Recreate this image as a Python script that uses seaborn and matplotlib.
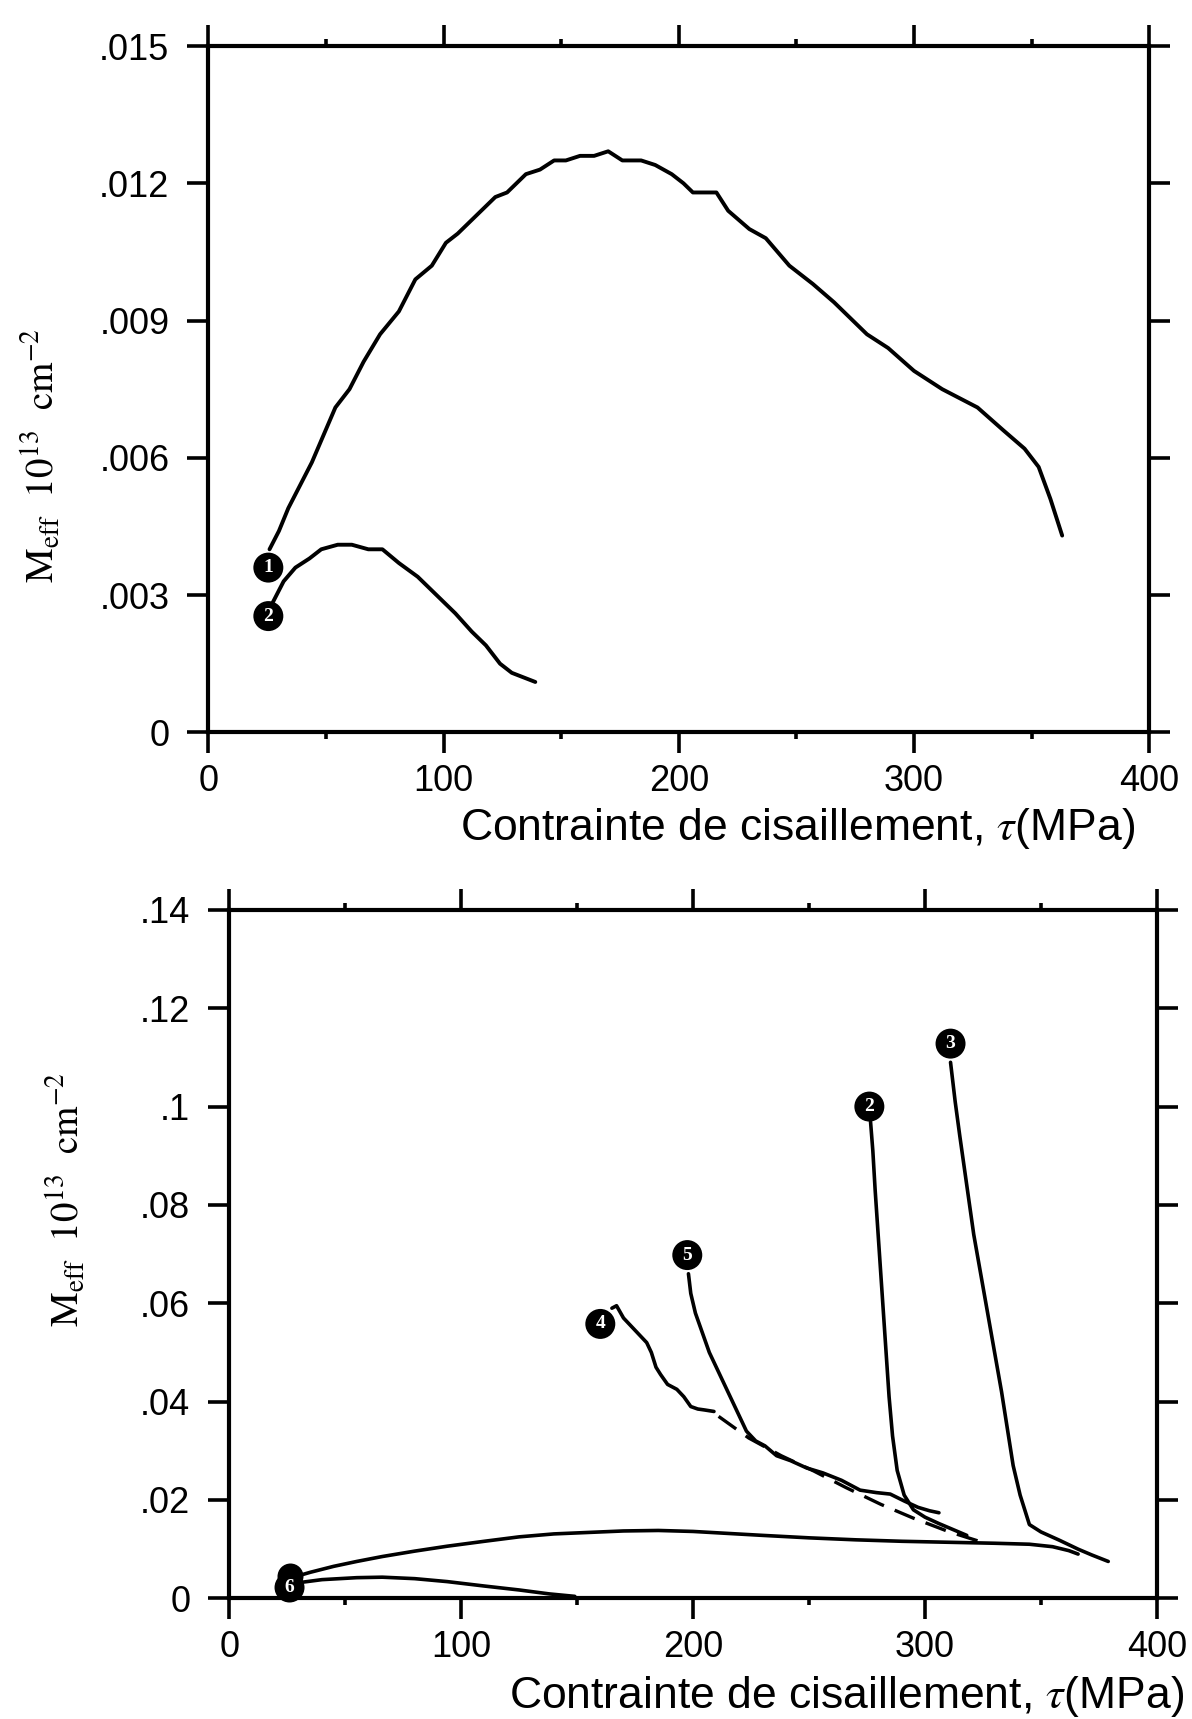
import matplotlib
matplotlib.use("Agg")
import matplotlib.pyplot as plt
import seaborn as sns


# top panel curves (tau in MPa, Meff in 1e13 cm-2)
top1_x = [26, 30, 34, 39, 44, 49, 54, 60, 66, 73, 81, 88, 95, 101, 106, 114, 122, 127, 135, 141,
          147, 152, 158, 164, 170, 176, 184, 190, 197, 202, 206, 212, 216, 221, 230, 237, 247, 257, 266, 280,
          289, 300, 312, 327, 338, 347, 353, 358, 363]
top1_y = [0.0040, 0.0044, 0.0049, 0.0054, 0.0059, 0.0065, 0.0071, 0.0075, 0.0081, 0.0087,
          0.0092, 0.0099, 0.0102, 0.0107, 0.0109, 0.0113, 0.0117, 0.0118, 0.0122, 0.0123,
          0.0125, 0.0125, 0.0126, 0.0126, 0.0127, 0.0125, 0.0125, 0.0124, 0.0122, 0.0120,
          0.0118, 0.0118, 0.0118, 0.0114, 0.0110, 0.0108, 0.0102, 0.0098, 0.0094, 0.0087,
          0.0084, 0.0079, 0.0075, 0.0071, 0.0066, 0.0062, 0.0058, 0.0051, 0.0043]
top2_x = [27, 32, 37, 43, 48, 55, 61, 68, 74, 81, 89, 97, 105, 112, 118, 124, 129, 134, 139]
top2_y = [0.0028, 0.0033, 0.0036, 0.0038, 0.0040, 0.0041, 0.0041, 0.0040, 0.0040, 0.0037,
          0.0034, 0.0030, 0.0026, 0.0022, 0.0019, 0.0015, 0.0013, 0.0012, 0.0011]

# bottom panel curves
low_x = [27, 35, 45, 55, 66, 80, 94, 110, 125, 140, 155, 170, 185, 200, 215, 230, 250, 270, 290, 310,
         330, 345, 355, 362, 366]
low_y = [0.0042, 0.0053, 0.0065, 0.0075, 0.0085, 0.0096, 0.0106, 0.0116, 0.0125, 0.0131,
         0.0134, 0.0137, 0.0138, 0.0136, 0.0132, 0.0128, 0.0123, 0.0119, 0.0116, 0.0114,
         0.0112, 0.0110, 0.0105, 0.0097, 0.0090]
bump_x = [27, 40, 55, 66, 80, 94, 110, 125, 138, 149]
bump_y = [0.0030, 0.0038, 0.0042, 0.0043, 0.0040, 0.0034, 0.0025, 0.0017, 0.0009, 0.0004]
c3_x = [311, 313, 315, 318, 321, 324, 327, 330, 333, 336, 338, 341, 345, 350, 358, 366, 372, 379]
c3_y = [0.109, 0.101, 0.094, 0.084, 0.074, 0.066, 0.058, 0.050, 0.042, 0.033, 0.027, 0.021,
        0.015, 0.0135, 0.0118, 0.0100, 0.0088, 0.0075]
c2_x = [276.5, 277.5, 278.5, 279.5, 280.5, 281.5, 282.5, 283.5, 284.5, 286, 288, 291, 295, 300, 306, 312, 318]
c2_y = [0.097, 0.091, 0.083, 0.076, 0.069, 0.062, 0.055, 0.048, 0.041, 0.033, 0.026, 0.021,
        0.018, 0.0165, 0.0152, 0.014, 0.0128]
c5_x = [198, 199, 201, 204, 207, 211, 215, 219, 223, 227, 231, 236, 242, 249, 256, 264, 272, 279,
        285, 291, 297, 302, 306]
c5_y = [0.066, 0.062, 0.058, 0.054, 0.050, 0.046, 0.042, 0.038, 0.034, 0.032, 0.031, 0.029,
        0.028, 0.0265, 0.0255, 0.024, 0.022, 0.0215, 0.0212, 0.0198, 0.0185, 0.0178, 0.0174]
c4_x = [165, 167, 170, 174, 178, 180, 182, 184, 186, 189, 193, 196, 199, 202, 205, 209]
c4_y = [0.059, 0.0595, 0.057, 0.055, 0.053, 0.052, 0.050, 0.047, 0.0455, 0.0435, 0.0425,
        0.041, 0.039, 0.0385, 0.0383, 0.038]
c4_dash_x = [211, 224, 238, 252, 266, 281, 295, 310, 324]
c4_dash_y = [0.037, 0.0326, 0.029, 0.0259, 0.0225, 0.0191, 0.0163, 0.0136, 0.0115]

# circled curve numbers: (text, x, y)
top_tags = [("1", 25.5, 0.0036), ("2", 25.5, 0.00254)]
bottom_tags = [("6", 26, 0.0022), ("4", 160, 0.0558),
               ("5", 197.5, 0.0698), ("2", 276, 0.1), ("3", 311, 0.1128)]
# circle hidden behind the lower "6"
hidden_tag_x = [26]
hidden_tag_y = [0.0046]

x_ticks = [0, 100, 200, 300, 400]
x_minor = [50, 150, 250, 350]
top_yticks = [0, 0.003, 0.006, 0.009, 0.012, 0.015]
top_ylabels = ["0", ".003", ".006", ".009", ".012", ".015"]
bot_yticks = [0, 0.02, 0.04, 0.06, 0.08, 0.10, 0.12, 0.14]
bot_ylabels = ["0", ".02", ".04", ".06", ".08", ".1", ".12", ".14"]

xlabel = r"Contrainte de cisaillement, $\tau$(MPa)"
ylabel = r"$\mathrm{M_{eff}\ \ 10^{13}\ \ cm^{-2}}$"

sns.set_theme(style="ticks")
plt.rcParams["font.family"] = ["Liberation Sans", "DejaVu Sans"]
plt.rcParams["mathtext.fontset"] = "stix"

fig = plt.figure(figsize=(11.92, 17.19), dpi=100)
ax1 = fig.add_axes([0.1748, 0.574, 0.7893, 0.3992])
ax2 = fig.add_axes([0.1923, 0.0702, 0.7783, 0.4005])


def style(ax, yticks, ylabels, ymax):
    ax.set_xlim(0, 400)
    ax.set_ylim(0, ymax)
    ax.set_xticks(x_ticks)
    ax.set_xticks(x_minor, minor=True)
    ax.set_yticks(yticks)
    ax.set_yticklabels(ylabels)
    for s in ax.spines.values():
        s.set_linewidth(3)
        s.set_color("black")
    ax.tick_params(which="both", direction="out", top=True, right=True, color="black", width=2.6)
    ax.tick_params(which="major", length=15, pad=8, labelsize=26, labelcolor="black")
    ax.tick_params(axis="y", which="major", pad=13)
    ax.tick_params(which="minor", length=5)
    ax.set_facecolor("white")


def tag(ax, tags):
    for t, x, y in tags:
        ax.text(x, y, t, ha="center", va="center", color="white", fontsize=14,
                fontweight="bold", family="Liberation Serif", zorder=5,
                bbox=dict(boxstyle="circle,pad=0.28", fc="black", ec="black", lw=1.5))


style(ax1, top_yticks, top_ylabels, 0.015)
sns.lineplot(x=top1_x, y=top1_y, ax=ax1, color="black", lw=2.8, sort=False, estimator=None)
sns.lineplot(x=top2_x, y=top2_y, ax=ax1, color="black", lw=2.8, sort=False, estimator=None)
tag(ax1, top_tags)

style(ax2, bot_yticks, bot_ylabels, 0.14)
for xs, ys in [(low_x, low_y), (bump_x, bump_y), (c3_x, c3_y), (c2_x, c2_y), (c5_x, c5_y), (c4_x, c4_y)]:
    sns.lineplot(x=xs, y=ys, ax=ax2, color="black", lw=2.6, sort=False, estimator=None)
sns.lineplot(x=c4_dash_x, y=c4_dash_y, ax=ax2, color="black", lw=2.4, sort=False,
             estimator=None, linestyle=(0, (6.5, 3.5)))
sns.scatterplot(x=hidden_tag_x, y=hidden_tag_y, ax=ax2, color="black", s=300,
                edgecolor="black", zorder=4)
tag(ax2, bottom_tags)

for ax, xl, yl in [(ax1, (0.985, -0.14), (-0.179, 0.403)), (ax2, (1.029, -0.143), (-0.177, 0.579))]:
    ax.set_xlabel(xlabel, fontsize=32, ha="right", va="center", color="black")
    ax.xaxis.set_label_coords(*xl)
    ax.set_ylabel(ylabel, fontsize=28, va="center", color="black")
    ax.yaxis.set_label_coords(*yl)

fig.savefig("out.png", dpi=100, facecolor="white")
